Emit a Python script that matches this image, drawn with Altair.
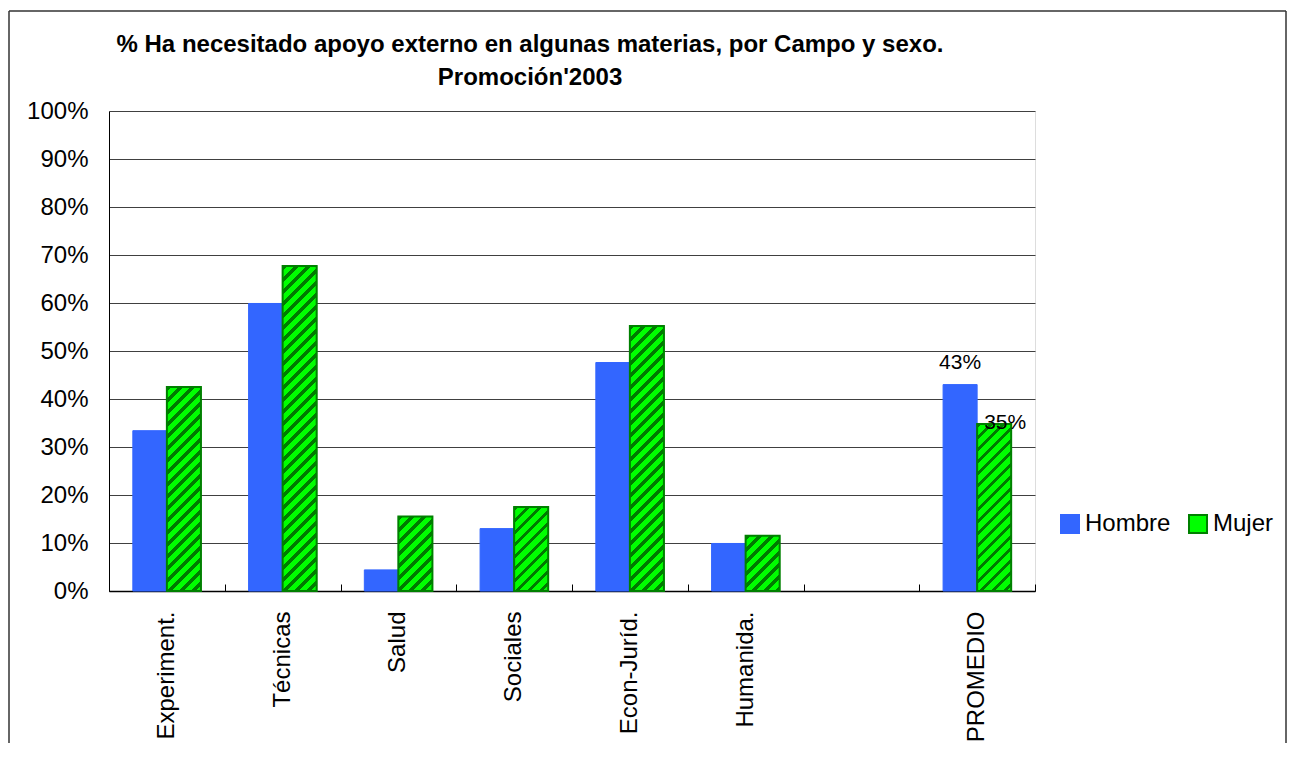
import altair as alt
import pandas as pd

# ---------------- data ----------------
categories = ["Experiment.", "Técnicas", "Salud", "Sociales", "Econ-Juríd.", "Humanida.", " ", "PROMEDIO"]
hombre = [33.4, 59.9, 4.4, 13.0, 47.6, 9.9, None, 43.0]
mujer = [42.5, 67.7, 15.5, 17.5, 55.2, 11.5, None, 34.8]
series = ["Hombre", "Mujer"]
fill_colors = ["#3366FF", "#00FF00"]
stroke_colors = ["#3366FF", "#008000"]
y_ticks = [0, 10, 20, 30, 40, 50, 60, 70, 80, 90, 100]
title_lines = ["% Ha necesitado apoyo externo en algunas materias, por Campo y sexo.",
               "Promoción'2003"]
labelled_category = "PROMEDIO"

rows = []
for c, h, m in zip(categories, hombre, mujer):
    if h is not None:
        rows.append({"campo": c, "sexo": "Hombre", "valor": h})
    if m is not None:
        rows.append({"campo": c, "sexo": "Mujer", "valor": m})
df = pd.DataFrame(rows)

# ---------------- layout ----------------
W, H = 926, 480
FONT = "Liberation Sans"
OUTER = 0.7
band = W / len(categories)
bar_w = band / (2 + 2 * OUTER)

x_scale = alt.Scale(domain=categories, paddingInner=0, paddingOuter=0)
xo_scale = alt.Scale(domain=series, paddingInner=0, paddingOuter=OUTER)
y_scale = alt.Scale(domain=[0, 100], nice=False)

y_axis = alt.Axis(values=y_ticks, labelExpr="datum.value + '%'", title=None, grid=True,
                  gridColor="#404040", gridWidth=1, ticks=False, tickSize=0, domain=True,
                  domainColor="black", domainWidth=1, labelFontSize=24, labelFont=FONT,
                  labelColor="black", labelPadding=21)
x_label_axis = alt.Axis(title=None, orient="bottom", labelAngle=270, labelFontSize=24,
                        labelFont=FONT, labelColor="black", labelPadding=20, ticks=False,
                        tickSize=0, domain=True, domainColor="black", domainWidth=1.5, grid=False)
x_tick_axis = alt.Axis(title=None, orient="bottom", offset=-7, labels=False, domain=False,
                       ticks=True, tickSize=7, tickColor="black", tickWidth=1,
                       tickBand="extent", grid=False)

xo = alt.XOffset("sexo:N", scale=xo_scale)
y_enc = alt.Y("valor:Q", scale=y_scale)

# outer chart frame (decoration) and chart title
deco_df = pd.DataFrame({"k": [0]})
frame_color = "#333333"
frame_left = alt.Chart(deco_df).mark_rule(color=frame_color, strokeWidth=1.5).encode(
    x=alt.value(-100), y=alt.value(-100), y2=alt.value(632))
frame_top = alt.Chart(deco_df).mark_rule(color=frame_color, strokeWidth=1.5).encode(
    x=alt.value(-100), x2=alt.value(1177), y=alt.value(-100))
frame_right = alt.Chart(deco_df).mark_rule(color=frame_color, strokeWidth=1.5).encode(
    x=alt.value(1177), y=alt.value(-100), y2=alt.value(632))
title_mark = alt.Chart(deco_df).mark_text(
    text=title_lines, font=FONT, fontSize=24, fontWeight="bold", color="black",
    align="center", baseline="alphabetic", lineHeight=33).encode(
    x=alt.value(W / 2 - 42), y=alt.value(-59))

legend = alt.Legend(title=None, orient="none", legendX=949, legendY=401,
                    direction="horizontal", symbolType="square",
                    symbolSize=324, labelFontSize=24, labelFont=FONT,
                    labelColor="black", columnPadding=14, labelOffset=3,
                    padding=0, symbolStrokeWidth=2, symbolOpacity=1)

base = alt.Chart(df).mark_bar(strokeWidth=1).encode(
    x=alt.X("campo:N", scale=x_scale, axis=x_label_axis),
    xOffset=xo,
    y=alt.Y("valor:Q", scale=y_scale, axis=y_axis),
    color=alt.Color("sexo:N", scale=alt.Scale(domain=series, range=fill_colors), legend=legend),
    stroke=alt.Stroke("sexo:N", scale=alt.Scale(domain=series, range=stroke_colors), legend=legend),
)

# hatched (striped) Mujer bars: one gradient per bar so stripes keep a 45° angle
PERIOD = 12.0
DARK = 0.4
hatch_layers = []
for c, m in zip(categories, mujer):
    if m is None:
        continue
    w = bar_w
    h = m / 100.0 * H
    L = w + h
    D = w * w + h * h
    stops = [alt.GradientStop(color="#00FF00", offset=0)]
    s = 0.0
    while s < L:
        a = s / L
        b = min((s + DARK * PERIOD) / L, 1.0)
        stops.append(alt.GradientStop(color="#00FF00", offset=a))
        stops.append(alt.GradientStop(color="#007A00", offset=a))
        stops.append(alt.GradientStop(color="#007A00", offset=b))
        stops.append(alt.GradientStop(color="#00FF00", offset=b))
        s += PERIOD
    grad = alt.LinearGradient(gradient="linear", stops=stops, x1=0, y1=0,
                              x2=w * L / D, y2=h * L / D)
    hatch_layers.append(
        alt.Chart(df).transform_filter(
            (alt.datum.campo == c) & (alt.datum.sexo == "Mujer")
        ).mark_bar(fill=grad, stroke="#008000", strokeWidth=2).encode(
            x=alt.X("campo:N", scale=x_scale, axis=None),
            xOffset=xo,
            y=y_enc,
        )
    )

lab_base = alt.Chart(df).transform_filter(
    alt.datum.campo == labelled_category
).transform_calculate(label="format(datum.valor, '.0f') + '%'")

text_h = lab_base.transform_filter(alt.datum.sexo == "Hombre").mark_text(
    font=FONT, fontSize=21, color="black", baseline="middle", dy=-22).encode(
    x=alt.X("campo:N", scale=x_scale, axis=x_tick_axis),
    xOffset=xo,
    y=y_enc,
    text="label:N")
text_m = lab_base.transform_filter(alt.datum.sexo == "Mujer").mark_text(
    font=FONT, fontSize=21, color="black", baseline="middle", dx=11, dy=-1).encode(
    x=alt.X("campo:N", scale=x_scale, axis=None),
    xOffset=xo,
    y=y_enc,
    text="label:N")

chart = alt.layer(frame_left, frame_top, frame_right, title_mark, base, *hatch_layers,
                  text_h, text_m).resolve_axis(
    x="independent"
).properties(
    width=W, height=H,
    padding={"left": 0, "top": 2, "right": 0, "bottom": 0},
).configure_view(stroke="#555555", strokeWidth=1).configure(background="white")

chart.save("out.html", embed_options={"renderer": "svg", "actions": False})
